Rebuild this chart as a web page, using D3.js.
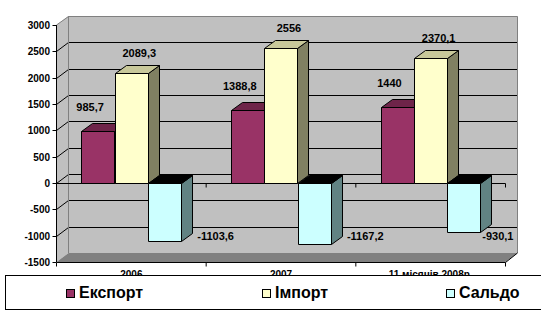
<!DOCTYPE html>
<html>
<head>
<meta charset="utf-8">
<script src="https://cdn.jsdelivr.net/npm/d3@7/dist/d3.min.js"></script>
<style>
  html, body { margin: 0; padding: 0; background: #fff; }
  svg { display: block; font-family: "Liberation Sans", Arial, sans-serif; }
</style>
</head>
<body>
<svg id="chart" width="541" height="335"></svg>
<script>
// Foreign trade, million USD
const categories = ["2006", "2007", "11 місяців 2008р."];
const seriesNames = ["Експорт", "Імпорт", "Сальдо"];
const exportValues = [985.7, 1388.8, 1440];
const importValues = [2089.3, 2556, 2370.1];
const balanceValues = [-1103.6, -1167.2, -930.1];
const yTicks = [-1500, -1000, -500, 0, 500, 1000, 1500, 2000, 2500, 3000];

// face colours per series: front, top, side
const faceColors = [
  { front: "#993366", top: "#6e2449", side: "#5c1e3d" },
  { front: "#FFFFCC", top: "#c8c89a", side: "#808062" },
  { front: "#CCFFFF", top: "#000000", side: "#618383" }
];
const labelFmt = v => String(v).replace(".", ",");

const svg = d3.select("#chart");

const x0 = 56.5, x1 = 505.5;       // front plane of the category axis
const wallDx = 12, wallDy = -9;     // depth offset of the walls
const barDx = 11, barDy = -8;       // depth offset of the columns

const y = d3.scaleLinear().domain([-1500, 3000]).range([262, 25]);
const x = d3.scaleBand().domain(categories).range([x0, x1]).paddingInner(0).paddingOuter(0);
const xs = d3.scaleBand().domain(seriesNames).range([0, x.bandwidth()]).paddingInner(0).paddingOuter(0.75);

const rows = seriesNames.map((s, i) => ({
  name: s, idx: i,
  values: [exportValues, importValues, balanceValues][i]
}));

const yTop = y(3000), yBot = y(-1500);
const poly = pts => pts.map(p => p.join(",")).join(" ");

// ---- walls ----
const walls = svg.append("g");
walls.append("polygon")
  .attr("points", poly([[x0, yTop], [x0 + wallDx, yTop + wallDy], [x0 + wallDx, yBot + wallDy], [x0, yBot]]))
  .attr("fill", "#c0c0c0");
walls.append("rect")
  .attr("x", x0 + wallDx).attr("y", yTop + wallDy)
  .attr("width", x1 + wallDx - (x0 + wallDx)).attr("height", yBot - yTop)
  .attr("fill", "#c0c0c0");
walls.append("polygon")
  .attr("points", poly([[x0, yBot], [x1, yBot], [x1 + wallDx, yBot + wallDy], [x0 + wallDx, yBot + wallDy]]))
  .attr("fill", "#808080");

// gridlines on the back and side walls
const grid = svg.append("g").attr("stroke", "#000").attr("stroke-width", 1).attr("fill", "none");
yTicks.filter(t => t > -1500 && t < 3000).forEach(t => {
  const yy = Math.round(y(t)) + 0.5;
  grid.append("path")
    .attr("d", `M${x0},${yy}L${x0 + wallDx},${yy + wallDy}H${x1 + wallDx}`);
});

// wall edges
svg.append("path")
  .attr("d", `M${x0},${yTop}L${x0 + wallDx},${Math.round(yTop + wallDy) + 0.5}H${x1 + wallDx}V${yBot + wallDy}`)
  .attr("fill", "none").attr("stroke", "#808080");
svg.append("line")
  .attr("x1", x0 + wallDx).attr("x2", x0 + wallDx)
  .attr("y1", yTop + wallDy).attr("y2", yBot + wallDy)
  .attr("stroke", "#808080");
svg.append("path")
  .attr("d", `M${x1},${Math.round(yBot) + 0.5}L${x1 + wallDx},${yBot + wallDy}`)
  .attr("fill", "none").attr("stroke", "#000");

// category axis at zero on the front plane
const yZero = Math.round(y(0)) + 0.5;
const zeroAxis = svg.append("g").attr("stroke", "#000");
zeroAxis.append("line").attr("x1", x0).attr("x2", x1).attr("y1", yZero).attr("y2", yZero);
categories.concat([null]).forEach((c, i) => {
  const xx = c === null ? x1 : x(c);
  zeroAxis.append("line").attr("x1", xx).attr("x2", xx).attr("y1", yZero).attr("y2", yZero + 4);
});

// ---- columns ----
const bars = svg.append("g").attr("stroke", "#000").attr("stroke-width", 1).attr("stroke-linejoin", "round");
categories.forEach((c, ci) => {
  rows.forEach(r => {
    const v = r.values[ci];
    const col = faceColors[r.idx];
    const bx = Math.round(x(c) + xs(r.name)) + 0.5;
    const bw = Math.round(xs.bandwidth());
    const yv = Math.round(y(v)) + 0.5;
    const top = Math.min(yv, yZero), bottom = Math.max(yv, yZero);
    // side face
    bars.append("polygon")
      .attr("points", poly([[bx + bw, top], [bx + bw + barDx, top + barDy], [bx + bw + barDx, bottom + barDy], [bx + bw, bottom]]))
      .attr("fill", col.side);
    // top face
    bars.append("polygon")
      .attr("points", poly([[bx, top], [bx + barDx, top + barDy], [bx + bw + barDx, top + barDy], [bx + bw, top]]))
      .attr("fill", col.top);
    // front face
    bars.append("rect")
      .attr("x", bx).attr("y", top).attr("width", bw).attr("height", bottom - top)
      .attr("fill", col.front);
  });
});

// ---- value axis ----
const yAxisG = svg.append("g");
yAxisG.append("line").attr("x1", x0).attr("x2", x0).attr("y1", yTop).attr("y2", yBot).attr("stroke", "#000");
yTicks.forEach(t => {
  const yy = Math.round(y(t)) + 0.5;
  yAxisG.append("line").attr("x1", x0 - 4).attr("x2", x0).attr("y1", yy).attr("y2", yy).attr("stroke", "#000");
  yAxisG.append("text")
    .attr("x", 50).attr("y", yy + 3.5)
    .attr("text-anchor", "end")
    .attr("font-size", "10px").attr("font-weight", "bold").attr("fill", "#000")
    .text(t);
});

// bottom front edge with category ticks
const xAxisG = svg.append("g").attr("stroke", "#000");
const yB = Math.round(yBot) + 0.5;
xAxisG.append("line").attr("x1", x0).attr("x2", x1).attr("y1", yB).attr("y2", yB);
categories.concat([null]).forEach(c => {
  const xx = c === null ? x1 : x(c);
  xAxisG.append("line").attr("x1", xx).attr("x2", xx).attr("y1", yB).attr("y2", yB + 4);
});

// ---- data labels ----
const labels = svg.append("g")
  .attr("font-size", "11px").attr("font-weight", "bold").attr("fill", "#000");
categories.forEach((c, ci) => {
  rows.forEach(r => {
    const v = r.values[ci];
    const bx = x(c) + xs(r.name);
    const bw = xs.bandwidth();
    if (v >= 0) {
      const dx = r.idx === 0 ? -8 : 8;
      const dy = r.idx === 0 ? -24 : -20;
      labels.append("text")
        .attr("x", bx + bw / 2 + dx).attr("y", y(v) + dy + 4)
        .attr("text-anchor", "middle")
        .text(labelFmt(v));
    } else {
      const t = labels.append("text").text(labelFmt(v)).attr("text-anchor", "start");
      const w = t.node().getComputedTextLength();
      let sx = bx + bw + barDx + 5;
      if (sx + w > x1 + wallDx - 4) sx = x1 + wallDx - 4 - w;
      t.attr("x", sx).attr("y", Math.max(y(v) - 8, y(-1000)) + 4);
    }
  });
});

// category labels
svg.append("g")
  .attr("font-size", "10px").attr("font-weight", "bold").attr("fill", "#000")
  .selectAll("text").data(categories).join("text")
  .attr("x", d => x(d) + x.bandwidth() / 2)
  .attr("y", 278)
  .attr("text-anchor", "middle")
  .text(d => d);

// ---- legend ----
const legend = svg.append("g");
legend.append("rect")
  .attr("x", 5.5).attr("y", 275.5).attr("width", 600).attr("height", 34)
  .attr("fill", "#fff").attr("stroke", "#000");
const legendX = [66, 262, 446];
seriesNames.forEach((s, i) => {
  const g = legend.append("g").attr("transform", `translate(${legendX[i]},0)`);
  g.append("rect").attr("x", 0.5).attr("y", 289.5).attr("width", 8).attr("height", 8)
    .attr("fill", faceColors[i].front).attr("stroke", "#000");
  g.append("text").attr("x", 13).attr("y", 298)
    .attr("font-size", "16px").attr("font-weight", "bold").attr("fill", "#000")
    .text(s);
});
</script>
</body>
</html>
